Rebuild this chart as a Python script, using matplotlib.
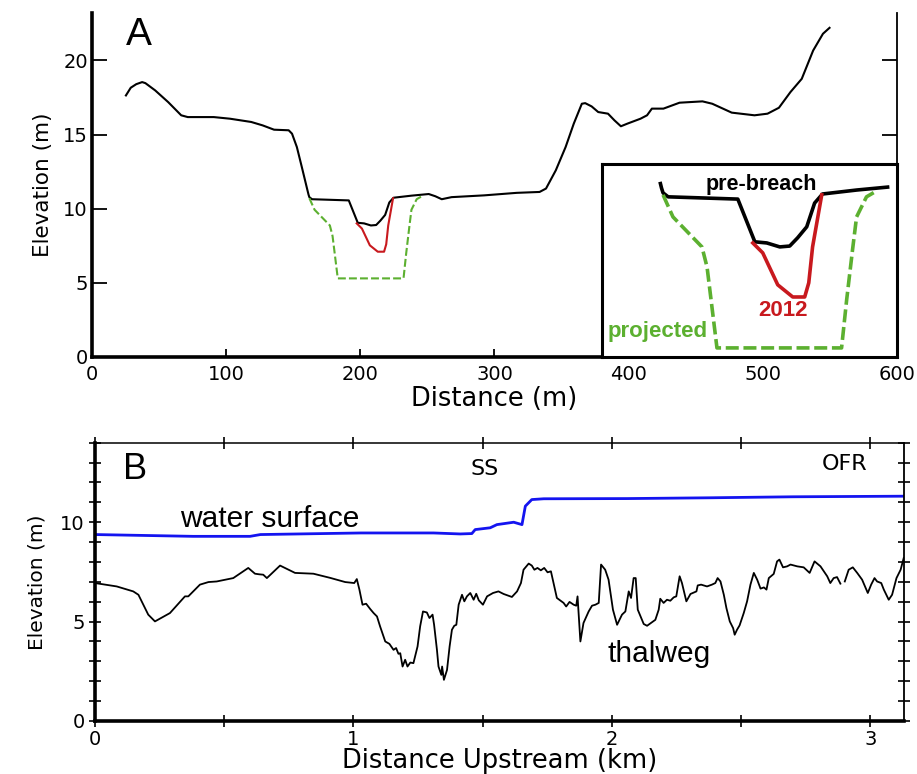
import matplotlib
matplotlib.use("Agg")
import matplotlib.pyplot as plt
import numpy as np

# ---------------- Panel A data (distance m, elevation m) ----------------
left_x = [25.3, 28.9, 33.0, 37.4, 39.8, 47.1, 56.8, 66.5, 71.4, 90.8, 102.9, 118.7,
          127.2, 135.7, 146.6, 149.1, 152.7, 156.4]
left_y = [17.64, 18.16, 18.40, 18.54, 18.47, 17.98, 17.19, 16.30, 16.18, 16.18, 16.07, 15.85,
          15.62, 15.33, 15.29, 15.06, 14.16, 12.81]

pre_x = [160.8, 161.4, 162.0, 164.0, 191.4, 198.1, 202.8, 207.9, 211.8, 214.9, 218.5,
         221.6, 224.7, 231.4, 238.1, 251.0]
pre_y = [11.17, 10.95, 10.78, 10.64, 10.56, 9.05, 9.01, 8.87, 8.90, 9.19, 9.58,
         10.42, 10.74, 10.81, 10.88, 10.99]

right_x = [255.9, 260.7, 268.0, 292.3, 316.6, 333.6, 338.4, 345.7, 353.0, 359.1, 365.1,
           367.6, 372.4, 377.3, 384.6, 389.4, 394.2, 399.1, 408.8, 413.7, 417.3, 425.9,
           437.9, 455.0, 462.3, 476.8, 493.8, 503.5, 512.0, 520.6, 529.0, 537.5, 544.8, 549.7]
right_y = [10.84, 10.64, 10.78, 10.90, 11.07, 11.13, 11.36, 12.59, 14.16, 15.74, 17.08,
           17.12, 16.90, 16.52, 16.41, 15.96, 15.56, 15.74, 16.07, 16.30, 16.75, 16.75,
           17.15, 17.24, 17.08, 16.48, 16.30, 16.41, 16.81, 17.87, 18.76, 20.67, 21.80, 22.20]

y2012_x = [197.3, 201.2, 207.1, 213.0, 217.7, 219.3, 220.8, 224.4]
y2012_y = [9.01, 8.66, 7.53, 7.10, 7.10, 7.60, 8.87, 10.71]

proj_x = [162.0, 165.9, 177.3, 179.3, 183.2, 232.2, 234.2, 236.5, 238.1, 242.0, 246.0]
proj_y = [10.71, 9.93, 8.87, 8.16, 5.30, 5.30, 7.00, 8.76, 9.93, 10.64, 10.85]

a_xticks = [0, 100, 200, 300, 400, 500, 600]
a_yticks = [0, 5, 10, 15, 20]

# ---------------- Panel B data (distance km, elevation m) ----------------
water_x = [0.0, 0.38, 0.60, 0.64, 1.03, 1.31, 1.413, 1.458, 1.471, 1.529, 1.555, 1.62,
           1.652, 1.665, 1.69, 1.736, 2.058, 2.38, 2.70, 3.13]
water_y = [9.38, 9.29, 9.29, 9.38, 9.46, 9.46, 9.41, 9.43, 9.63, 9.72, 9.88, 10.0,
           9.88, 10.81, 11.14, 11.18, 11.19, 11.23, 11.28, 11.31]

thal_x = [0.0, 0.084, 0.148, 0.168, 0.206, 0.232, 0.29, 0.348, 0.361, 0.406, 0.439, 0.471,
          0.535, 0.593, 0.619, 0.635, 0.651, 0.665, 0.716, 0.774, 0.845, 0.910, 0.968,
          1.003, 1.013, 1.023, 1.035, 1.049, 1.065, 1.078, 1.091, 1.103, 1.123, 1.139,
          1.155, 1.165, 1.174, 1.181, 1.19, 1.2, 1.209, 1.22, 1.232, 1.248, 1.258, 1.269,
          1.284, 1.294, 1.306, 1.312, 1.323, 1.329, 1.34, 1.343, 1.35, 1.362, 1.372, 1.381,
          1.39, 1.398, 1.407, 1.42, 1.429, 1.439, 1.452, 1.465, 1.475, 1.485, 1.501, 1.517,
          1.54, 1.561, 1.581, 1.613, 1.633, 1.648, 1.658, 1.678, 1.69, 1.70, 1.712, 1.725,
          1.738, 1.751, 1.764, 1.774, 1.787, 1.813, 1.823, 1.836, 1.852, 1.862, 1.867,
          1.878, 1.89, 1.91, 1.923, 1.936, 1.949, 1.958, 1.974, 1.987, 2.004, 2.02,
          2.039, 2.052, 2.065, 2.074, 2.084, 2.092, 2.10, 2.123, 2.136, 2.168, 2.181,
          2.187, 2.20, 2.213, 2.226, 2.239, 2.249, 2.262, 2.271, 2.288, 2.304, 2.327,
          2.332, 2.345, 2.368, 2.387, 2.40, 2.409, 2.42, 2.433, 2.443, 2.456, 2.469,
          2.475, 2.484, 2.494, 2.51, 2.523, 2.536, 2.549, 2.562, 2.575, 2.588, 2.598,
          2.607, 2.626, 2.639, 2.648, 2.662, 2.678, 2.691, 2.717, 2.742, 2.765, 2.784,
          2.807, 2.833, 2.845, 2.858, 2.871, 2.884, 2.892, 2.901, 2.916, 2.932, 2.949,
          2.968, 2.99, 3.003, 3.016, 3.026, 3.042, 3.052, 3.071, 3.084, 3.101, 3.117, 3.129]
thal_y = [6.94, 6.77, 6.52, 6.35, 5.35, 5.01, 5.43, 6.27, 6.27, 6.86, 6.99, 7.02,
          7.19, 7.70, 7.41, 7.38, 7.36, 7.19, 7.82, 7.45, 7.41, 7.20, 6.99,
          6.94, 7.14, 6.61, 5.85, 5.90, 5.63, 5.43, 5.26, 4.76, 4.00, 3.88,
          3.58, 3.67, 3.38, 3.41, 2.74, 3.08, 2.74, 2.94, 2.91, 3.75, 4.76, 5.51,
          5.46, 5.18, 5.35, 4.84, 3.58, 2.74, 2.32, 2.74, 2.07, 2.57, 3.75, 4.59,
          4.79, 4.84, 5.85, 6.35, 6.02, 6.27, 6.44, 6.10, 6.40, 6.07, 5.85, 6.27,
          6.44, 6.52, 6.39, 6.24, 6.52, 6.94, 7.61, 7.92, 7.82, 7.61, 7.70, 7.58,
          7.70, 7.48, 7.53, 6.94, 6.19, 5.94, 5.76, 5.99, 5.85, 5.80, 6.27,
          4.00, 4.93, 5.51, 5.80, 5.85, 5.94, 7.87, 7.61, 7.11, 5.60, 4.84,
          5.35, 5.51, 6.52, 6.19, 7.19, 7.19, 5.60, 4.88, 4.79, 5.09, 5.60,
          6.15, 5.94, 6.10, 6.05, 6.22, 6.27, 7.28, 6.94, 6.02, 6.39, 6.52,
          6.82, 6.86, 6.77, 6.86, 6.94, 7.19, 7.02, 6.35, 5.68, 5.01, 4.67,
          4.34, 4.59, 4.81, 5.43, 6.02, 6.86, 7.45, 7.11, 6.66, 6.72, 6.61,
          7.19, 7.40, 8.03, 8.12, 7.73, 7.78, 7.87, 7.78, 7.73, 7.45, 8.03,
          7.78, 7.28, 6.94, 7.19, 7.24, 6.91, np.nan, 7.02, 7.61, 7.73, 7.45,
          7.11, 6.44, 6.86, 7.19, 7.02, 6.94, 6.61, 6.10, 6.35, 7.19, 7.61, 8.20]

b_xticks = [0, 1, 2, 3]
b_xminor = [0.5, 1.5, 2.5]
b_yticks = [0, 5, 10]

# ---------------- styles ----------------
RED = "#c8191e"
GREEN = "#5cb030"
BLUE = "#1414f0"
TICKFONT = "DejaVu Sans"
ARIAL = "Liberation Sans"

fig = plt.figure(figsize=(9.17, 7.74), dpi=100)

# ---------------- Panel A ----------------
axA = fig.add_axes([0.1003, 0.5388, 0.8779, 0.4444])
axA.plot(left_x + pre_x + right_x, left_y + pre_y + right_y, color="black", lw=1.5)
axA.plot(y2012_x, y2012_y, color=RED, lw=1.5)
axA.plot(proj_x, proj_y, color=GREEN, lw=1.5, dashes=(3.8, 1.5))
axA.set_xlim(0, 600)
axA.set_ylim(0, 23.2)
axA.set_xticks(a_xticks)
axA.set_yticks(a_yticks)
axA.spines["top"].set_visible(False)
axA.spines["left"].set_linewidth(2.6)
axA.spines["bottom"].set_linewidth(2.6)
axA.spines["right"].set_linewidth(1.3)
axA.tick_params(axis="y", which="both", left=True, right=True, direction="inout",
                length=11, width=1.3, labelsize=14, pad=3)
axA.tick_params(axis="y", which="both", right=True, direction="in")
axA.tick_params(axis="x", direction="in", length=6, width=1.3, labelsize=14, pad=6)
for lab in axA.get_xticklabels() + axA.get_yticklabels():
    lab.set_family(TICKFONT)
axA.set_xlabel("Distance (m)", fontsize=18.5, family=TICKFONT, labelpad=1)
axA.set_ylabel("Elevation (m)", fontsize=15.5, family=TICKFONT, labelpad=7)
axA.text(0.042, 0.935, "A", transform=axA.transAxes, fontsize=28, family=ARIAL,
         va="center", ha="left")

# inset
axI = fig.add_axes([0.6565, 0.5388, 0.3217, 0.2493], zorder=5)
axI.set_facecolor("white")
axI.plot(pre_x, pre_y, color="black", lw=2.6, solid_capstyle="butt")
axI.plot(y2012_x, y2012_y, color=RED, lw=2.6)
axI.plot(proj_x, proj_y, color=GREEN, lw=2.6, dashes=(3.6, 1.3))
axI.set_xlim(138, 254)
axI.set_ylim(4.98, 11.8)
axI.set_xticks([])
axI.set_yticks([])
for s in axI.spines.values():
    s.set_linewidth(2.2)
axI.text(0.54, 0.895, "pre-breach", transform=axI.transAxes, fontsize=15.5,
         family=ARIAL, weight="bold", color="black", ha="center", va="center")
axI.text(0.615, 0.24, "2012", transform=axI.transAxes, fontsize=16,
         family=ARIAL, weight="bold", color=RED, ha="center", va="center")
axI.text(0.19, 0.13, "projected", transform=axI.transAxes, fontsize=16,
         family=ARIAL, weight="bold", color=GREEN, ha="center", va="center")

# ---------------- Panel B ----------------
axB = fig.add_axes([0.1036, 0.0685, 0.8822, 0.3595])
axB.plot(water_x, water_y, color=BLUE, lw=2.0)
axB.plot(thal_x, thal_y, color="black", lw=1.3)
axB.set_xlim(0, 3.13)
axB.set_ylim(0, 14)
axB.set_xticks(b_xticks)
axB.set_xticks(b_xminor, minor=True)
axB.set_yticks(b_yticks)
axB.set_yticks(np.arange(0, 15, 1), minor=True)
axB.spines["left"].set_linewidth(2.6)
axB.spines["bottom"].set_linewidth(2.6)
axB.spines["top"].set_linewidth(1.1)
axB.spines["right"].set_linewidth(1.3)
axB.tick_params(axis="both", which="both", direction="inout", length=9, width=1.2,
                top=True, right=True, labelsize=14)
axB.tick_params(axis="x", pad=2)
axB.tick_params(axis="y", pad=3)
for lab in axB.get_xticklabels() + axB.get_yticklabels():
    lab.set_family(TICKFONT)
axB.set_xlabel("Distance Upstream (km)", fontsize=18.5, family=TICKFONT, labelpad=-1)
axB.set_ylabel("Elevation (m)", fontsize=14.5, family=TICKFONT, labelpad=10)
axB.text(0.034, 0.905, "B", transform=axB.transAxes, fontsize=26, family=ARIAL,
         va="center", ha="left")
axB.text(0.482, 0.907, "SS", transform=axB.transAxes, fontsize=16, family=TICKFONT,
         va="center", ha="center")
axB.text(0.926, 0.922, "OFR", transform=axB.transAxes, fontsize=16, family=TICKFONT,
         va="center", ha="center")
axB.text(0.216, 0.725, "water surface", transform=axB.transAxes, fontsize=21.5,
         family=ARIAL, va="center", ha="center")
axB.text(0.697, 0.24, "thalweg", transform=axB.transAxes, fontsize=21.5,
         family=ARIAL, va="center", ha="center")

fig.savefig("out.png", dpi=100)
